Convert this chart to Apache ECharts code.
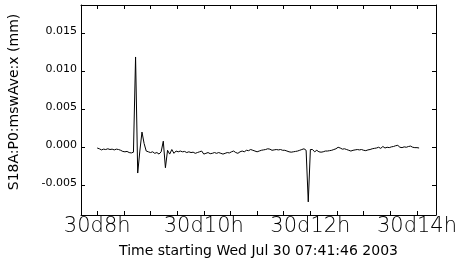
<!DOCTYPE html>
<html>
<head>
<meta charset="utf-8">
<script src="https://cdn.jsdelivr.net/npm/echarts@6/dist/echarts.min.js"></script>
<style>
  html, body { margin: 0; padding: 0; background: #fff; }
  #chart { width: 457px; height: 262px; }
</style>
</head>
<body>
<div id="chart"></div>
<script>
// time axis (hours on day 30)
const startHour = 7.696;   // 07:41:46
const endHour = 14.357;
const sampleStartHour = 8.0;
const sampleStepHour = 0.04;

// tick marks and labels
const xTickHours = [8, 8.5, 9, 9.5, 10, 10.5, 11, 11.5, 12, 12.5, 13, 13.5, 14];
const xLabelHours = [8, 10, 12, 14];
const yTickValues = [-0.005, 0.000, 0.005, 0.010, 0.015];

// S18A:P0:mswAve:x in mm, one value per sample
const mswAveX = [
  -0.00010, -0.00020, -0.00035, -0.00025, -0.00030, -0.00020, -0.00030, -0.00025, -0.00035, -0.00025,
  -0.00030, -0.00040, -0.00055, -0.00060, -0.00055, -0.00070, -0.00075, -0.00065, 0.01190, -0.00340,
  -0.00050, 0.00200, 0.00050, -0.00050, -0.00060, -0.00070, -0.00060, -0.00080, -0.00070, -0.00090,
  -0.00060, 0.00080, -0.00270, -0.00040, -0.00090, -0.00030, -0.00080, -0.00050, -0.00060, -0.00050,
  -0.00060, -0.00055, -0.00070, -0.00060, -0.00070, -0.00065, -0.00080, -0.00070, -0.00060, -0.00050,
  -0.00090, -0.00080, -0.00070, -0.00085, -0.00080, -0.00070, -0.00080, -0.00070, -0.00080, -0.00090,
  -0.00080, -0.00070, -0.00075, -0.00060, -0.00050, -0.00070, -0.00080, -0.00060, -0.00050, -0.00060,
  -0.00040, -0.00045, -0.00030, -0.00040, -0.00050, -0.00060, -0.00050, -0.00040, -0.00035, -0.00030,
  -0.00020, -0.00025, -0.00040, -0.00035, -0.00030, -0.00035, -0.00030, -0.00040, -0.00040, -0.00050,
  -0.00060, -0.00065, -0.00060, -0.00055, -0.00050, -0.00040, -0.00030, -0.00020, -0.00040, -0.00720,
  -0.00030, -0.00030, -0.00060, -0.00040, -0.00060, -0.00065, -0.00060, -0.00050, -0.00050, -0.00045,
  -0.00040, -0.00030, -0.00020, 0.00000, -0.00010, -0.00025, -0.00020, -0.00030, -0.00040, -0.00050,
  -0.00040, -0.00035, -0.00030, -0.00035, -0.00030, -0.00040, -0.00045, -0.00035, -0.00030, -0.00020,
  -0.00015, -0.00010, 0.00000, -0.00015, 0.00010, -0.00010, 0.00000, -0.00005, 0.00005, 0.00010,
  0.00020, 0.00025, 0.00000, -0.00005, 0.00005, 0.00000, 0.00010, 0.00015, 0.00000, -0.00005,
  -0.00005, -0.00010
];

const seriesData = mswAveX.map((v, i) => [sampleStartHour + sampleStepHour * i, v]);

const labelFont = "DejaVu Sans";

function hourLabel(v) {
  return "30d" + Math.round(v) + "h";
}

const chart = echarts.init(document.getElementById("chart"));

const option = {
  animation: false,
  grid: { left: 81, right: 21, top: 5, bottom: 47, show: false, outerBoundsMode: "none", containLabel: false },
  xAxis: [
    {
      type: "value",
      min: startHour,
      max: endHour,
      name: "Time starting Wed Jul 30 07:41:46 2003",
      nameLocation: "middle",
      nameGap: 29,
      nameTextStyle: { fontFamily: labelFont, fontSize: 14, color: "#000" },
      axisLine: { show: true, onZero: false, lineStyle: { color: "#000", width: 1 } },
      axisTick: { show: true, inside: true, length: 4, customValues: xTickHours, lineStyle: { color: "#000" } },
      axisLabel: {
        customValues: xLabelHours,
        formatter: hourLabel,
        fontFamily: labelFont,
        fontWeight: 200,
        fontSize: 21,
        color: "#000",
        margin: 1
      },
      splitLine: { show: false }
    },
    {
      type: "value",
      position: "top",
      min: startHour,
      max: endHour,
      axisLine: { show: true, onZero: false, lineStyle: { color: "#000", width: 1 } },
      axisTick: { show: true, inside: true, length: 4, customValues: xTickHours, lineStyle: { color: "#000" } },
      axisLabel: { show: false },
      splitLine: { show: false }
    }
  ],
  yAxis: [
    {
      type: "value",
      min: -0.00893,
      max: 0.01875,
      name: "S18A:P0:mswAve:x (mm)",
      nameLocation: "middle",
      nameGap: 60,
      nameTextStyle: { fontFamily: labelFont, fontSize: 14, color: "#000", padding: [0, 0, 0, 16] },
      axisLine: { show: true, onZero: false, lineStyle: { color: "#000", width: 1 } },
      axisTick: { show: true, inside: true, length: 4, customValues: yTickValues, lineStyle: { color: "#000" } },
      axisLabel: {
        customValues: yTickValues,
        formatter: v => v.toFixed(3),
        fontFamily: labelFont,
        fontSize: 11,
        color: "#000",
        margin: 4,
        verticalAlign: "bottom",
        padding: [0, 0, -3, 0]
      },
      splitLine: { show: false }
    },
    {
      type: "value",
      position: "right",
      min: -0.00893,
      max: 0.01875,
      axisLine: { show: true, onZero: false, lineStyle: { color: "#000", width: 1 } },
      axisTick: { show: true, inside: true, length: 4, customValues: yTickValues, lineStyle: { color: "#000" } },
      axisLabel: { show: false },
      splitLine: { show: false }
    }
  ],
  series: [
    {
      type: "line",
      data: seriesData,
      showSymbol: false,
      lineStyle: { color: "#000", width: 1 },
      itemStyle: { color: "#000" }
    }
  ]
};

chart.setOption(option);
</script>
</body>
</html>
